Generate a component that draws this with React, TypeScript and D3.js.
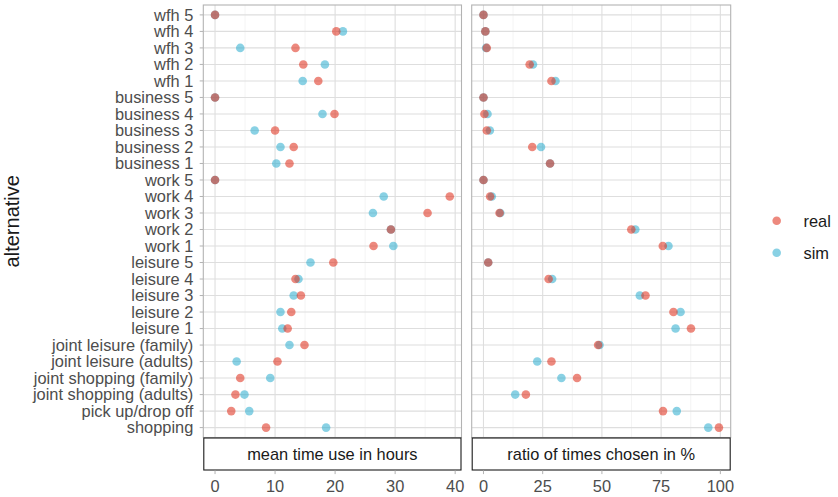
import React from "react";
import * as d3 from "d3";

const categories = [
  "wfh 5", "wfh 4", "wfh 3", "wfh 2", "wfh 1",
  "business 5", "business 4", "business 3", "business 2", "business 1",
  "work 5", "work 4", "work 3", "work 2", "work 1",
  "leisure 5", "leisure 4", "leisure 3", "leisure 2", "leisure 1",
  "joint leisure (family)", "joint leisure (adults)",
  "joint shopping (family)", "joint shopping (adults)",
  "pick up/drop off", "shopping",
];

// mean time use in hours
const timeReal = [0, 20.2, 13.4, 14.7, 17.2, 0, 19.9, 10.0, 13.1, 12.4, 0, 39.1, 35.4, 29.3, 26.4, 19.7, 13.4, 14.3, 12.7, 12.1, 14.9, 10.4, 4.2, 3.4, 2.7, 8.5];
const timeSim = [0, 21.3, 4.2, 18.3, 14.6, 0, 17.9, 6.6, 10.9, 10.2, 0, 28.1, 26.3, 29.3, 29.7, 15.9, 13.9, 13.1, 10.9, 11.2, 12.4, 3.6, 9.2, 4.9, 5.7, 18.5];
// ratio of times chosen in %
const ratioReal = [0, 0.8, 1.4, 19.5, 28.7, 0, 0.4, 1.4, 20.6, 28.1, 0, 2.8, 6.8, 62.4, 75.7, 2.0, 27.5, 68.4, 80.2, 87.6, 48.4, 28.7, 39.5, 17.9, 75.8, 99.4];
const ratioSim = [0, 0.8, 1.1, 20.9, 30.4, 0, 1.7, 2.7, 24.3, 28.1, 0, 3.5, 7.1, 64.1, 78.1, 2.0, 29.0, 66.0, 83.2, 81.1, 49.0, 22.7, 32.9, 13.4, 81.6, 94.9];

const timeTicks = [0, 10, 20, 30, 40];
const timeMinor = [5, 15, 25, 35];
const ratioTicks = [0, 25, 50, 75, 100];
const ratioMinor = [12.5, 37.5, 62.5, 87.5];

const seriesNames = ["real", "sim"];
const colors: Record<string, string> = { real: "rgb(224,52,32)", sim: "rgb(52,176,208)" };
const ALPHA = 0.58;

const W = 838, H = 497;
const panelTop = 5, panelBottom = 437.5;
const stripH = 33;
const FS = 16.4;
const FONT = "'Liberation Sans', Arial, Helvetica, sans-serif";

function Panel({ x0, x1, real, sim, ticks, minor, label }: any) {
  const all = real.concat(sim);
  const lo = d3.min(all) as number, hi = d3.max(all) as number;
  const pad = (hi - lo) * 0.05;
  const x = d3.scaleLinear().domain([lo - pad, hi + pad]).range([x0, x1]);
  const y = d3.scalePoint<string>().domain(categories).range([panelTop, panelBottom]).padding(0.6);
  const stripBottom = panelBottom + stripH;
  return (
    <g>
      <rect x={x0} y={panelTop} width={x1 - x0} height={panelBottom - panelTop} fill="white" />
      {minor.map((t: number) => (
        <line key={"m" + t} x1={x(t)} x2={x(t)} y1={panelTop} y2={panelBottom} stroke="#ededed" strokeWidth={0.6} />
      ))}
      {ticks.map((t: number) => (
        <line key={"M" + t} x1={x(t)} x2={x(t)} y1={panelTop} y2={panelBottom} stroke="#dedede" strokeWidth={1.1} />
      ))}
      {categories.map((c) => (
        <line key={"h" + c} x1={x0} x2={x1} y1={y(c)} y2={y(c)} stroke="#dedede" strokeWidth={1.1} />
      ))}
      {categories.map((c, i) => (
        <circle key={"s" + c} cx={x(sim[i])} cy={y(c)} r={4.3} fill={colors.sim} fillOpacity={ALPHA} />
      ))}
      {categories.map((c, i) => (
        <circle key={"r" + c} cx={x(real[i])} cy={y(c)} r={4.3} fill={colors.real} fillOpacity={ALPHA} />
      ))}
      <rect x={x0} y={panelTop} width={x1 - x0} height={panelBottom - panelTop} fill="none" stroke="#b3b3b3" strokeWidth={1.1} />
      <rect x={x0 + 0.5} y={panelBottom + 0.5} width={x1 - x0 - 1} height={stripH - 1} fill="white" stroke="#1a1a1a" strokeWidth={1.1} />
      <text x={(x0 + x1) / 2} y={panelBottom + stripH / 2} dy="0.36em" textAnchor="middle" fontSize={FS} fill="#1a1a1a" fontFamily={FONT}>{label}</text>
      {ticks.map((t: number) => (
        <g key={"t" + t}>
          <line x1={x(t)} x2={x(t)} y1={stripBottom} y2={stripBottom + 3.6} stroke="#b3b3b3" strokeWidth={1} />
          <text x={x(t)} y={stripBottom + 21} textAnchor="middle" fontSize={FS} fill="#4d4d4d" fontFamily={FONT}>{t}</text>
        </g>
      ))}
    </g>
  );
}

export default function App() {
  const y = d3.scalePoint<string>().domain(categories).range([panelTop, panelBottom]).padding(0.6);
  const leftX0 = 203.3;
  return (
    <svg width={W} height={H} style={{ position: "absolute", left: 0, top: 0, background: "white" }}>
      <rect width={W} height={H} fill="white" />
      {categories.map((c) => (
        <g key={c}>
          <line x1={leftX0 - 3.6} x2={leftX0} y1={y(c)} y2={y(c)} stroke="#b3b3b3" strokeWidth={1} />
          <text x={leftX0 - 10} y={y(c)} dy="0.36em" textAnchor="end" fontSize={FS} fill="#4d4d4d" fontFamily={FONT}>{c}</text>
        </g>
      ))}
      <text transform={`translate(19,${(panelTop + panelBottom) / 2}) rotate(-90)`} textAnchor="middle" fontSize={20} fill="#1a1a1a" fontFamily={FONT}>alternative</text>
      <Panel x0={leftX0} x1={461.5} real={timeReal} sim={timeSim} ticks={timeTicks} minor={timeMinor} label="mean time use in hours" />
      <Panel x0={471.7} x1={730.7} real={ratioReal} sim={ratioSim} ticks={ratioTicks} minor={ratioMinor} label="ratio of times chosen in %" />
      {seriesNames.map((s, i) => (
        <g key={s}>
          <circle cx={776.7} cy={220.8 + i * 32} r={4.3} fill={colors[s]} fillOpacity={ALPHA} />
          <text x={803.5} y={220.8 + i * 32} dy="0.36em" fontSize={FS} fill="#1a1a1a" fontFamily={FONT}>{s}</text>
        </g>
      ))}
    </svg>
  );
}
